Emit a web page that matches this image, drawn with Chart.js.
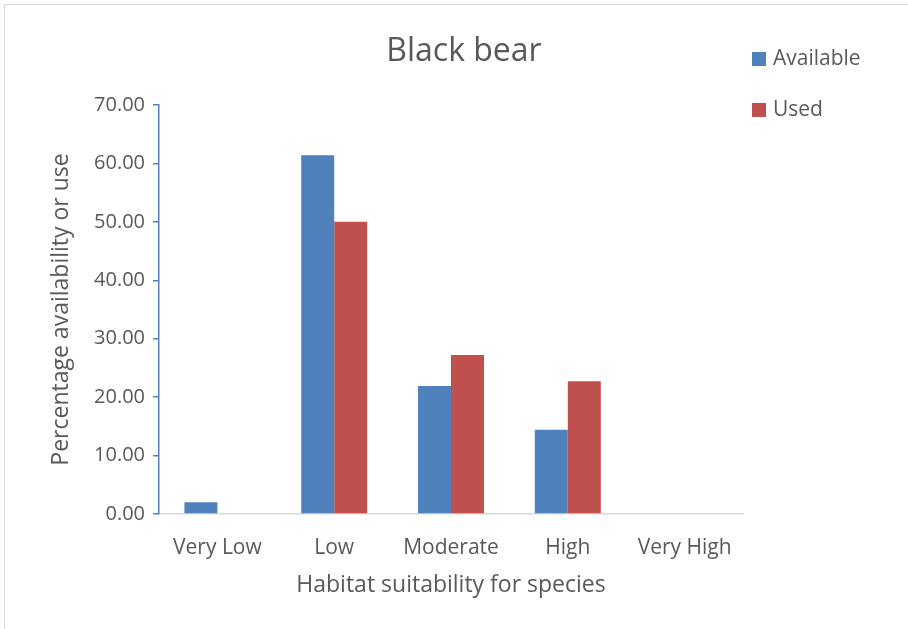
<!DOCTYPE html>
<html>
<head>
<meta charset="utf-8">
<script src="https://cdn.jsdelivr.net/npm/chart.js@4"></script>
<style>
  html, body { margin: 0; padding: 0; background: #fff; overflow: hidden; }
  #frame { position: absolute; left: 4px; top: 4px; width: 940px; height: 650px;
           border-left: 1px solid #d9d9d9; border-top: 1px solid #d9d9d9; }
  #chart { display: block; }
</style>
</head>
<body>
<div id="frame"><canvas id="chart" width="918" height="630"></canvas></div>
<script>
var categories = ['Very Low', 'Low', 'Moderate', 'High', 'Very High'];
var availableValues = [2.0, 61.4, 21.9, 14.4, 0];
var usedValues = [0, 50.0, 27.2, 22.7, 0];
var seriesNames = ['Available', 'Used'];
var seriesColors = ['#4f81bd', '#c0504d'];

var textColor = '#595959';
var fontFamily = "'Open Sans', 'Noto Sans', sans-serif";

// legend drawn at the top right like the Excel original
var sideLegend = {
    id: 'sideLegend',
    afterDraw: function (chart) {
        var ctx = chart.ctx;
        ctx.save();
        ctx.font = '21px ' + fontFamily;
        ctx.textBaseline = 'middle';
        ctx.textAlign = 'left';
        chart.data.datasets.forEach(function (ds, i) {
            var y = 53 + i * 51;
            ctx.fillStyle = ds.backgroundColor;
            ctx.fillRect(747, y - 6, 14, 14);
            ctx.fillStyle = textColor;
            ctx.fillText(ds.label, 768, y + 1);
        });
        ctx.restore();
    }
};

var ctx = document.getElementById('chart').getContext('2d');
var grafico = new Chart(ctx, {
    type: 'bar',
    data: {
        labels: categories,
        datasets: [
            {
                label: seriesNames[0],
                data: availableValues,
                backgroundColor: seriesColors[0],
                borderWidth: 0,
                categoryPercentage: 0.565,
                barPercentage: 1.0
            },
            {
                label: seriesNames[1],
                data: usedValues,
                backgroundColor: seriesColors[1],
                borderWidth: 0,
                categoryPercentage: 0.565,
                barPercentage: 1.0
            }
        ]
    },
    plugins: [sideLegend],
    options: {
        responsive: false,
        animation: false,
        plugins: {
            legend: { display: false },
            tooltip: { enabled: false },
            title: {
                display: true,
                text: 'Black bear',
                color: textColor,
                font: { family: fontFamily, size: 32, weight: 'normal' },
                padding: { top: 28, bottom: 33.6 }
            }
        },
        scales: {
            x: {
                grid: { display: false, drawTicks: false },
                border: { display: true, color: '#d9d9d9', width: 1.5 },
                ticks: {
                    color: textColor,
                    font: { family: fontFamily, size: 21 },
                    padding: 21,
                    maxRotation: 0
                },
                title: {
                    display: true,
                    text: 'Habitat suitability for species',
                    color: textColor,
                    font: { family: fontFamily, size: 23 },
                    padding: { top: 0, bottom: 36 }
                },
                afterFit: function (scale) { scale.height = 121; }
            },
            y: {
                min: 0,
                max: 70,
                ticks: {
                    stepSize: 10,
                    color: textColor,
                    font: { family: fontFamily, size: 20 },
                    padding: 8,
                    callback: function (v) { return Number(v).toFixed(2); }
                },
                grid: {
                    display: true,
                    drawOnChartArea: false,
                    drawTicks: true,
                    tickLength: 6,
                    tickColor: '#4f81bd',
                    lineWidth: 1.5
                },
                border: { display: true, color: '#4f81bd', width: 1.5 },
                title: {
                    display: true,
                    text: 'Percentage availability or use',
                    color: textColor,
                    font: { family: fontFamily, size: 23 },
                    padding: { top: 43, bottom: 0 }
                },
                afterFit: function (scale) { scale.width = 154; }
            },
            // empty space on the right where the legend sits
            spacer: {
                type: 'linear',
                position: 'right',
                display: true,
                grid: { display: false, drawTicks: false },
                border: { display: false },
                ticks: { display: false },
                afterFit: function (scale) { scale.width = 180; }
            }
        }
    }
});
</script>
</body>
</html>
